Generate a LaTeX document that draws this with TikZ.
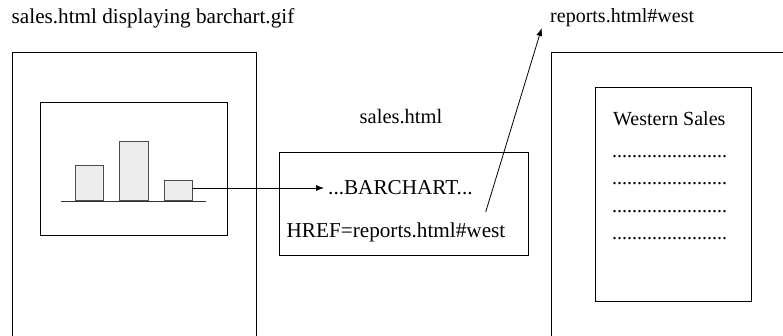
\documentclass[tikz,border=0pt]{standalone}
\usepackage{fontspec}
\setmainfont{Liberation Serif}
\usetikzlibrary{arrows.meta}
\begin{document}
\begin{tikzpicture}[x=1pt,y=-1pt,
  every node/.style={font=\fontsize{20}{24}\selectfont},
  big/.style={font=\fontsize{21.2}{25}\selectfont},
  frame/.style={draw=black,line width=0.9pt},
  boxn/.style={draw=black,line width=0.9pt,inner sep=0pt},
  bar/.style={draw=black!70,fill=black!7,line width=0.9pt,inner sep=0pt,anchor=south},
  txt/.style={inner sep=0pt},
  link/.style={line width=0.8pt,-{Latex[length=8pt,width=6pt]}}]
\useasboundingbox (0,0) rectangle (783,336);
% titles
\node[txt,big,anchor=west] (title) at (11.5,18) {sales.html displaying barchart.gif};
\node[txt,anchor=west] (rep) at (550,18) {reports.html\#west};
\node[txt,font=\fontsize{20.5}{24}\selectfont] (salesname) at (401,117) {sales.html};
% left page
\draw[frame] (12,336) -- (12,52) -- (256,52) -- (256,336);
\node[boxn,minimum width=187pt,minimum height=133pt] (chart) at (133.5,168.5) {};
\node[bar,minimum width=28pt,minimum height=35.6pt] (bar1) at (89,201.3) {};
\node[bar,minimum width=29pt,minimum height=59.6pt] (bar2) at (133.5,201.3) {};
\node[bar,minimum width=28pt,minimum height=20pt] (bar3) at (178,201.3) {};
\coordinate (bl) at (61,201.3);
\coordinate (br) at (206,201.3);
\draw[line width=0.9pt,black!80] (bl) -- (br);
% middle source
\node[boxn,minimum width=249pt,minimum height=103pt] (src) at (403.5,204.2) {};
\node[big,anchor=west,inner xsep=4pt,inner ysep=0pt] (bc) at (324,188) {...BARCHART...};
\node[txt,big] (href) at (396,232) {HREF=reports.html\#west};
\draw[link] (bar3.east |- bc.west) -- (bc.west);
\coordinate (hstart) at (485.7,212);
\coordinate (htip) at (541.7,28);
\draw[link] (hstart) -- (htip);
% right page
\draw[frame] (551,336) -- (551,52) -- (783,52);
\node[boxn,minimum width=156.4pt,minimum height=213.3pt] (doc) at (673.5,194.3) {};
\node[txt,anchor=west] (ws) at (613,119) {Western Sales};
\node[txt,anchor=west] (d1) at (612,156.7) {.......................};
\node[txt,anchor=west] (d2) at (612,184) {.......................};
\node[txt,anchor=west] (d3) at (612,211.3) {.......................};
\node[txt,anchor=west] (d4) at (612,239) {.......................};
\end{tikzpicture}
\end{document}
